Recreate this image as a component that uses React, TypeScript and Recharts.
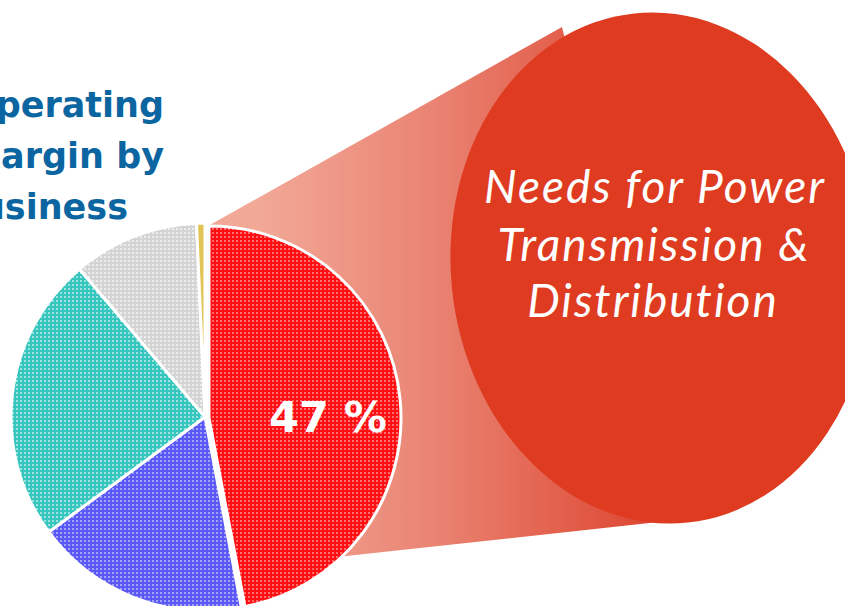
import { PieChart, Pie, Cell } from "recharts";

const segments = ["Power T&D", "Automation", "Industry", "Services", "Other"];
const shares = [47, 17.9, 23.9, 10.5, 0.7];
const headline = "47 %";
const titleLines = ["Operating", "margin by", "business"];
const calloutLines = ["Needs for Power", "Transmission &", "Distribution"];

const fills = ["url(#dotRed)", "url(#dotBlue)", "url(#dotTeal)", "url(#dotGray)", "#E2C456"];

const data = segments.map((name, i) => ({ name, value: shares[i] }));

function Dots({ id, base, dot, op }: { id: string; base: string; dot: string; op: number }) {
  return (
    <pattern id={id} width={4} height={4} patternUnits="userSpaceOnUse">
      <rect width={4} height={4} fill={base} />
      <rect width={2} height={2} fill={dot} fillOpacity={op} />
    </pattern>
  );
}

export default function App() {
  return (
    <div
      style={{
        position: "absolute",
        left: 0,
        top: 0,
        width: 845,
        height: 606,
        overflow: "hidden",
        background: "#fff",
      }}
    >
      {/* background: cone and callout bubble */}
      <svg width={845} height={606} style={{ position: "absolute", left: 0, top: 0 }}>
        <defs>
          <linearGradient id="cone" x1="260" y1="0" x2="640" y2="0" gradientUnits="userSpaceOnUse">
            <stop offset="0" stopColor="#F2A897" />
            <stop offset="0.45" stopColor="#EA8473" />
            <stop offset="1" stopColor="#DE4A35" />
          </linearGradient>
        </defs>
        <polygon points="208,226 562,27 686,519 337,557 240,566 208,417" fill="url(#cone)" />
        <ellipse cx={661} cy={268} rx={210} ry={256} transform="rotate(-6 661 268)" fill="#DE3B20" />
        <g fill="#fff" fontFamily="Lato, 'Open Sans', sans-serif" fontStyle="italic" fontSize={46} textAnchor="middle">
          <text x={655} y={203} letterSpacing={2}>{calloutLines[0]}</text>
          <text x={654} y={261} letterSpacing={2}>{calloutLines[1]}</text>
          <text x={653} y={317} letterSpacing={2}>{calloutLines[2]}</text>
        </g>
      </svg>

      <div style={{ position: "absolute", left: 0, top: 0 }}>
        <PieChart width={845} height={606} margin={{ top: 0, right: 0, bottom: 0, left: 0 }}>
          <defs>
            <Dots id="dotRed" base="#FF0F12" dot="#FFFFFF" op={0.4} />
            <Dots id="dotBlue" base="#5A58F6" dot="#FFFFFF" op={0.45} />
            <Dots id="dotTeal" base="#36C6BE" dot="#FFFFFF" op={0.5} />
            <Dots id="dotGray" base="#D4D4D4" dot="#FFFFFF" op={0.6} />
          </defs>
          <Pie
            data={data}
            dataKey="value"
            cx={205}
            cy={417}
            outerRadius={194}
            startAngle={90}
            endAngle={-270}
            stroke="#fff"
            strokeWidth={3}
            isAnimationActive={false}
            label={false}
            labelLine={false}
          >
            {data.map((d, i) => (
              <Cell key={d.name} fill={i === 0 ? "none" : fills[i]} stroke={i === 0 ? "none" : "#fff"} />
            ))}
          </Pie>
          <Pie
            data={data}
            dataKey="value"
            cx={209}
            cy={418}
            outerRadius={192}
            startAngle={90}
            endAngle={-270}
            stroke="#fff"
            strokeWidth={3}
            isAnimationActive={false}
            label={false}
            labelLine={false}
          >
            {data.map((d, i) => (
              <Cell key={d.name} fill={i === 0 ? fills[0] : "none"} stroke={i === 0 ? "#fff" : "none"} />
            ))}
          </Pie>
        </PieChart>
      </div>

      {/* foreground texts */}
      <svg
        width={845}
        height={606}
        style={{ position: "absolute", left: 0, top: 0, pointerEvents: "none" }}
      >
        <g fill="#0B65A0" fontFamily="'DejaVu Sans', sans-serif" fontWeight={700} fontSize={35} textAnchor="end">
          <text x={164} y={117}>{titleLines[0]}</text>
          <text x={164} y={168}>{titleLines[1]}</text>
          <text x={128} y={219}>{titleLines[2]}</text>
        </g>
        <text
          x={328}
          y={432}
          fill="#fff"
          fontFamily="'DejaVu Sans', Verdana, sans-serif"
          fontWeight={700}
          fontSize={43}
          textAnchor="middle"
        >
          {headline}
        </text>
      </svg>
    </div>
  );
}
